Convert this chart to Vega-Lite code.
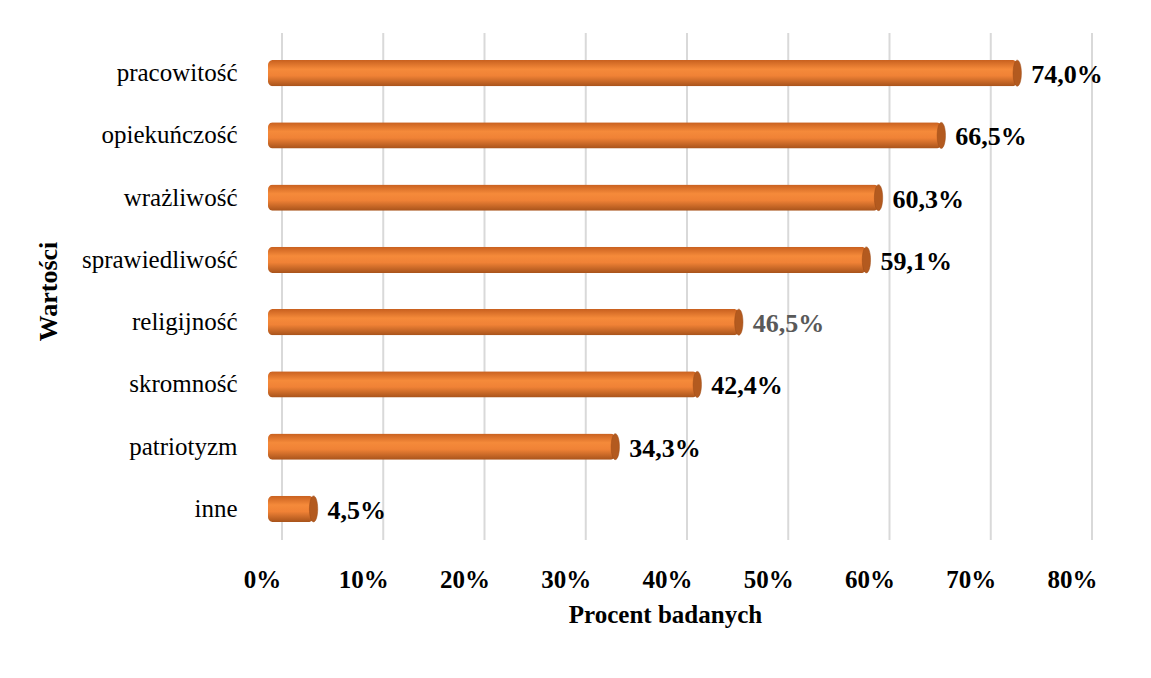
{
  "$schema": "https://vega.github.io/schema/vega-lite/v6.json",
  "width": 810,
  "height": 498,
  "autosize": {"type": "none"},
  "padding": {"left": 268, "top": 42, "right": 73, "bottom": 138},
  "background": "white",
  "config": {
    "view": {"stroke": null},
    "font": "Liberation Serif"
  },
  "datasets": {
    "vals": [
      {"kat": "pracowitość", "v": 74.0, "label": "74,0%"},
      {"kat": "opiekuńczość", "v": 66.5, "label": "66,5%"},
      {"kat": "wrażliwość", "v": 60.3, "label": "60,3%"},
      {"kat": "sprawiedliwość", "v": 59.1, "label": "59,1%"},
      {"kat": "religijność", "v": 46.5, "label": "46,5%"},
      {"kat": "skromność", "v": 42.4, "label": "42,4%"},
      {"kat": "patriotyzm", "v": 34.3, "label": "34,3%"},
      {"kat": "inne", "v": 4.5, "label": "4,5%"}
    ],
    "ticks": [{"t": 0}, {"t": 10}, {"t": 20}, {"t": 30}, {"t": 40}, {"t": 50}, {"t": 60}, {"t": 70}, {"t": 80}]
  },
  "layer": [
    {
      "data": {"name": "ticks"},
      "mark": {"type": "rule", "color": "#d9d9d9", "strokeWidth": 2, "xOffset": 14, "yOffset": -9},
      "encoding": {
        "x": {
          "field": "t", "type": "quantitative", "scale": {"domain": [0, 80]},
          "axis": {
            "title": "Procent badanych",
            "values": [0, 10, 20, 30, 40, 50, 60, 70, 80],
            "labelExpr": "datum.value + '%'",
            "labelFont": "Liberation Serif",
            "labelFontSize": 25,
            "labelFontWeight": "bold",
            "labelColor": "#000000",
            "labelPadding": 27,
            "labelOffset": -6,
            "labelFlush": false,
            "labelBound": false,
            "labelOverlap": false,
            "titleFont": "Liberation Serif",
            "titleFontSize": 25,
            "titleFontWeight": "bold",
            "titleColor": "#000000",
            "titlePadding": 10,
            "titleX": 397,
            "grid": false,
            "ticks": false,
            "domain": false
          }
        }
      }
    },
    {
      "data": {"name": "vals"},
      "mark": {
        "type": "bar",
        "cornerRadius": 5,
        "color": {
          "gradient": "linear",
          "x1": 0, "y1": 0, "x2": 0, "y2": 1,
          "stops": [
            {"offset": 0, "color": "#c8601f"},
            {"offset": 0.35, "color": "#f58a3a"},
            {"offset": 0.6, "color": "#f08236"},
            {"offset": 1, "color": "#a8531b"}
          ]
        }
      },
      "encoding": {
        "y": {
          "field": "kat", "type": "nominal", "sort": null,
          "scale": {"paddingInner": 0.58, "paddingOuter": 0.29},
          "axis": {
            "title": "Wartości",
            "titleFont": "Liberation Serif",
            "titleFontSize": 26,
            "titleFontWeight": "bold",
            "titleColor": "#000000",
            "titlePadding": 20,
            "labelFont": "Liberation Serif",
            "labelFontSize": 25,
            "labelColor": "#000000",
            "labelPadding": 31,
            "ticks": false,
            "domain": false
          }
        },
        "x": {
          "field": "v", "type": "quantitative",
          "scale": {"domain": [0, 80]},
          "axis": {
            "title": "Procent badanych",
            "values": [0, 10, 20, 30, 40, 50, 60, 70, 80],
            "labelExpr": "datum.value + '%'",
            "labelFont": "Liberation Serif",
            "labelFontSize": 25,
            "labelFontWeight": "bold",
            "labelColor": "#000000",
            "labelPadding": 27,
            "labelOffset": -6,
            "labelFlush": false,
            "labelBound": false,
            "labelOverlap": false,
            "titleFont": "Liberation Serif",
            "titleFontSize": 25,
            "titleFontWeight": "bold",
            "titleColor": "#000000",
            "titlePadding": 10,
            "titleX": 397,
            "grid": false,
            "ticks": false,
            "domain": false
          }
        }
      }
    },
    {
      "data": {"name": "vals"},
      "mark": {
        "type": "point",
        "filled": true,
        "opacity": 1,
        "size": 676,
        "shape": "M0,-1 A0.32,1 0 1,1 0,1 A0.32,1 0 1,1 0,-1 Z",
        "color": "#b35a1f",
        "stroke": "#9c4b17",
        "strokeWidth": 0.5
      },
      "encoding": {
        "y": {"field": "kat", "type": "nominal", "sort": null},
        "x": {"field": "v", "type": "quantitative"}
      }
    },
    {
      "data": {"name": "vals"},
      "mark": {
        "type": "text",
        "align": "left",
        "baseline": "middle",
        "dx": 14,
        "dy": 2,
        "font": "Liberation Serif",
        "fontSize": 26,
        "fontWeight": "bold"
      },
      "encoding": {
        "y": {"field": "kat", "type": "nominal", "sort": null},
        "x": {"field": "v", "type": "quantitative"},
        "text": {"field": "label"},
        "color": {
          "condition": {"test": "datum.kat === 'religijność'", "value": "#595959"},
          "value": "#000000"
        }
      }
    }
  ]
}
